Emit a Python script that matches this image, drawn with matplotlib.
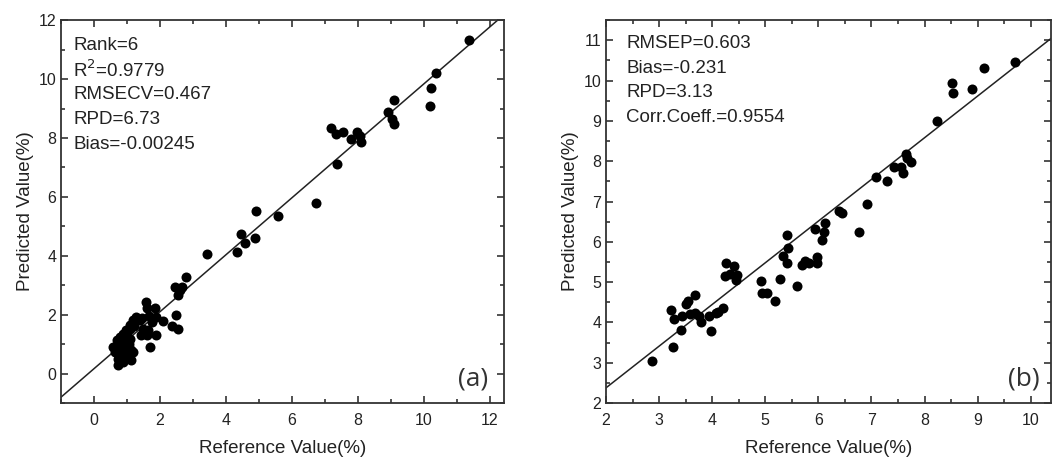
import matplotlib.pyplot as plt
from matplotlib.ticker import MultipleLocator

plt.rcParams['font.family'] = ['Liberation Sans', 'DejaVu Sans']

# (a) calibration / cross-validation set
ref_a = [11.36, 10.35, 10.22, 10.19, 9.09, 8.91, 9.04, 9.09, 7.17, 7.32, 7.55, 7.80,
         7.97, 8.05, 8.10, 7.36, 6.74, 5.58, 4.92, 4.89, 4.46, 4.57, 4.33, 3.42,
         2.80, 2.65, 2.46, 2.53, 2.60, 2.49, 2.37, 2.55,
         1.56, 1.59, 1.84, 1.89, 2.09, 1.74, 1.89, 1.69, 1.59, 1.48, 1.64, 1.43,
         1.38, 1.28, 1.18, 1.08, 0.98, 0.88, 0.78, 0.93, 1.08, 0.78, 0.58, 0.63,
         0.73, 0.73, 0.88, 0.98, 1.13, 1.18, 1.03, 0.88, 0.83, 0.68, 1.13, 1.30,
         1.59, 1.00, 1.10, 1.20, 1.45, 1.65, 1.00, 0.95, 0.80, 1.05]
pred_a = [11.32, 10.19, 9.71, 9.09, 9.28, 8.89, 8.66, 8.46, 8.34, 8.15, 8.19, 7.95,
          8.19, 8.06, 7.87, 7.10, 5.80, 5.34, 5.51, 4.61, 4.75, 4.42, 4.13, 4.05,
          3.28, 2.94, 2.94, 2.66, 2.83, 1.98, 1.61, 1.53,
          2.43, 2.21, 2.21, 1.92, 1.79, 1.75, 1.30, 0.91, 1.36, 1.53, 1.47, 1.30,
          1.81, 1.92, 1.81, 1.64, 1.47, 1.36, 1.25, 1.13, 1.19, 0.91, 0.91, 0.74,
          0.51, 0.28, 0.40, 0.68, 0.45, 0.74, 0.91, 0.68, 1.02, 1.13, 0.79, 1.81,
          1.30, 1.30, 1.50, 1.60, 1.90, 1.95, 1.20, 0.55, 0.60, 1.00]
fit_a = (0.17, 0.967)
stats_a = ['Rank=6', r'R$^2$=0.9779', 'RMSECV=0.467', 'RPD=6.73', 'Bias=-0.00245']

# (b) prediction set
ref_b = [2.87, 3.26, 3.23, 3.28, 3.41, 3.44, 3.51, 3.55, 3.59, 3.68, 3.68, 3.75,
         3.79, 3.94, 3.97, 4.07, 4.10, 4.20, 4.26, 4.25, 4.34, 4.42, 4.44, 4.47,
         4.91, 4.94, 5.04, 5.18, 5.28, 5.34, 5.40, 5.43, 5.41, 5.60, 5.70, 5.74,
         5.82, 5.93, 5.97, 5.97, 6.07, 6.10, 6.12, 6.39, 6.44, 6.76, 6.92, 7.09,
         7.29, 7.42, 7.56, 7.59, 7.65, 7.67, 7.75, 8.23, 8.51, 8.53, 8.90, 9.12, 9.70]
pred_b = [3.05, 3.40, 4.31, 4.08, 3.82, 4.16, 4.46, 4.52, 4.21, 4.69, 4.23, 4.15,
          4.02, 4.16, 3.78, 4.23, 4.27, 4.35, 5.47, 5.16, 5.20, 5.39, 5.06, 5.18,
          5.03, 4.73, 4.73, 4.54, 5.09, 5.65, 6.16, 5.84, 5.48, 4.91, 5.43, 5.53,
          5.47, 6.31, 5.62, 5.47, 6.05, 6.25, 6.46, 6.77, 6.71, 6.25, 6.95, 7.62,
          7.51, 7.86, 7.86, 7.71, 8.17, 8.07, 7.99, 9.00, 9.93, 9.70, 9.78, 10.32, 10.46]
fit_b = (0.31, 1.034)
stats_b = ['RMSEP=0.603', 'Bias=-0.231', 'RPD=3.13', 'Corr.Coeff.=0.9554']

fig = plt.figure(figsize=(10.54, 4.58), dpi=100)
ax1 = fig.add_axes([0.058, 0.120, 0.420, 0.836])
ax2 = fig.add_axes([0.575, 0.120, 0.422, 0.836])


def style(ax, major, minor):
    ax.xaxis.set_major_locator(MultipleLocator(major))
    ax.xaxis.set_minor_locator(MultipleLocator(minor))
    ax.yaxis.set_major_locator(MultipleLocator(major))
    ax.yaxis.set_minor_locator(MultipleLocator(minor))
    ax.tick_params(which='both', direction='in', top=True, right=True,
                   labelsize=11.5, width=1.1, colors='#222222')
    ax.tick_params(which='major', length=5)
    ax.tick_params(which='minor', length=3)
    ax.tick_params(axis='x', pad=7)
    for s in ax.spines.values():
        s.set_linewidth(1.3)
        s.set_color('#333333')
    ax.set_xlabel('Reference Value(%)', fontsize=13.5, color='#222222', labelpad=9)
    ax.set_ylabel('Predicted Value(%)', fontsize=13.5, color='#222222', labelpad=3)


# panel a
ax1.set_xlim(-1, 12.42)
ax1.set_ylim(-1, 12)
xs = [-1, 12.42]
ax1.plot(xs, [fit_a[0] + fit_a[1] * x for x in xs], color='#222222', lw=1.1)
ax1.scatter(ref_a, pred_a, s=52, color='black', zorder=3, linewidths=0)
style(ax1, 2, 1)
for i, t in enumerate(stats_a):
    ax1.text(0.027, 0.935 - i * 0.065, t, transform=ax1.transAxes,
             fontsize=13.5, va='center', color='#222222')
ax1.text(0.965, 0.03, '(a)', transform=ax1.transAxes, fontsize=19,
         ha='right', va='bottom', color='#333333', family=['Open Sans', 'DejaVu Sans'])

# panel b
ax2.set_xlim(2, 10.38)
ax2.set_ylim(2, 11.5)
xs = [2, 10.38]
ax2.plot(xs, [fit_b[0] + fit_b[1] * x for x in xs], color='#222222', lw=1.1)
ax2.scatter(ref_b, pred_b, s=52, color='black', zorder=3, linewidths=0)
style(ax2, 1, 0.5)
for i, t in enumerate(stats_b):
    ax2.text(0.045, 0.94 - i * 0.065, t, transform=ax2.transAxes,
             fontsize=13.5, va='center', color='#222222')
ax2.text(0.975, 0.03, '(b)', transform=ax2.transAxes, fontsize=19,
         ha='right', va='bottom', color='#333333', family=['Open Sans', 'DejaVu Sans'])

fig.savefig('out.png', dpi=100)
